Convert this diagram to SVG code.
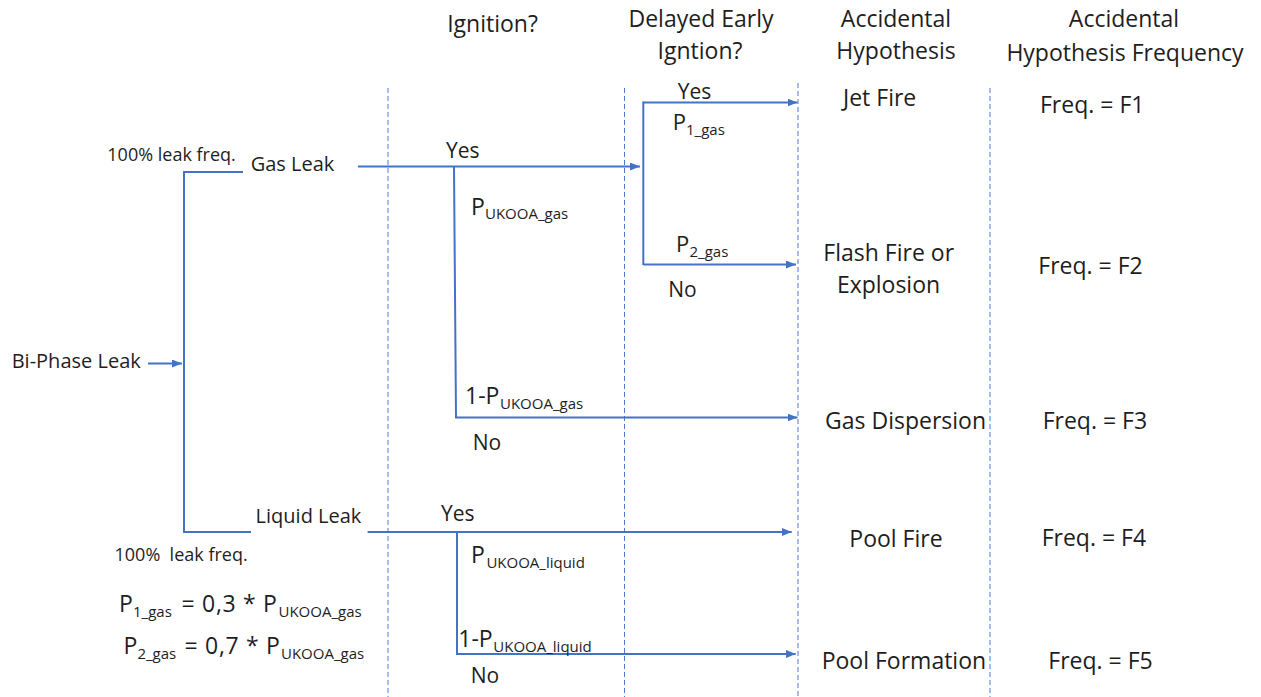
<svg xmlns="http://www.w3.org/2000/svg" width="1261" height="697" viewBox="0 0 1261 697">
<style>
text{font-family:"Open Sans","Noto Sans","Liberation Sans",sans-serif;fill:#1e1e1e}
.h{font-size:23px;text-anchor:middle}
.r{font-size:23px}
.m{font-size:20px}
.s{font-size:18px}
.yn{font-size:21px}
.p{font-size:23px}
.sub{font-size:15px}
.ls{letter-spacing:0.7px}
.c{fill:none;stroke:#4472C4;stroke-width:2}
.d{fill:none;stroke:#4A7BD0;stroke-width:1;stroke-dasharray:5 3}
</style>
<defs>
<marker id="ah" markerUnits="userSpaceOnUse" markerWidth="10" markerHeight="8" refX="10" refY="4" orient="auto">
<path d="M0,0 L10,4 L0,8 z" fill="#4472C4"/>
</marker>
</defs>
<rect width="1261" height="697" fill="#ffffff"/>
<g id="gridlines">
<line class="d" x1="388" y1="88" x2="388" y2="697"/>
<line class="d" x1="624.5" y1="88" x2="624.5" y2="697"/>
<line class="d" x1="798" y1="83" x2="798" y2="697"/>
<line class="d" x1="990" y1="88" x2="990" y2="697"/>
</g>
<g id="headers">
<text class="h" x="492.5" y="31.5">Ignition?</text>
<text class="h" x="701" y="26.5">Delayed Early</text>
<text class="h" x="700" y="58.5">Igntion?</text>
<text class="h" x="896" y="26.7">Accidental</text>
<text class="h" x="896" y="59.3">Hypothesis</text>
<text class="h" x="1124" y="27.3">Accidental</text>
<text class="h" x="1125" y="61">Hypothesis Frequency</text>
</g>
<g id="connectors">
<line class="c" x1="148" y1="363.5" x2="182" y2="363.5" marker-end="url(#ah)"/>
<path class="c" d="M243,172 H184 V532 H251"/>
<line class="c" x1="358" y1="166.5" x2="640" y2="166.5" marker-end="url(#ah)"/>
<path class="c" d="M454,166.5 L456,417.5 H797.5" marker-end="url(#ah)"/>
<line class="c" x1="643.3" y1="102.5" x2="797.5" y2="102.5" marker-end="url(#ah)"/>
<line class="c" x1="643.3" y1="101.5" x2="643.3" y2="265"/>
<line class="c" x1="643.3" y1="264.5" x2="796" y2="264.5" marker-end="url(#ah)"/>
<line class="c" x1="367.6" y1="532" x2="791.7" y2="532" marker-end="url(#ah)"/>
<path class="c" d="M457,532 V654 H795.7" marker-end="url(#ah)"/>
</g>
<g id="node-biphase"><text class="m" x="11.7" y="368.3">Bi-Phase Leak</text></g>
<g id="node-gasleak">
<text class="s" x="107.3" y="161">100% leak freq.</text>
<text class="m" x="250.7" y="171">Gas Leak</text>
</g>
<g id="node-liquidleak">
<text class="m" x="255.6" y="523.3">Liquid Leak</text>
<text class="s" x="114.5" y="561">100%&#160; leak freq.</text>
</g>
<g id="node-gas-ignition">
<text class="yn" x="446" y="158.3">Yes</text>
<text class="p" x="471" y="215">P<tspan class="sub" x="485" y="219.3">UKOOA_gas</tspan></text>
<text class="p" x="465" y="404.3">1-P<tspan class="sub" x="500" y="409">UKOOA_gas</tspan></text>
<text class="yn" x="472.7" y="450">No</text>
</g>
<g id="node-delayed">
<text class="yn" x="677.7" y="99.3">Yes</text>
<text class="p" x="672.7" y="130" style="font-size:22px">P<tspan class="sub" x="686" y="135">1_gas</tspan></text>
<text class="p" x="676" y="251.7" style="font-size:22px">P<tspan class="sub" x="689.5" y="256.7">2_gas</tspan></text>
<text class="yn" x="668.3" y="296.7">No</text>
</g>
<g id="node-liquid-ignition">
<text class="yn" x="441" y="520.7">Yes</text>
<text class="p" x="471" y="563.3">P<tspan class="sub" x="486.4" y="568.3">UKOOA_liquid</tspan></text>
<text class="p" x="458.3" y="646.5">1-P<tspan class="sub" x="493.3" y="651.7">UKOOA_liquid</tspan></text>
<text class="yn" x="470.7" y="683.3">No</text>
</g>
<g id="node-jetfire">
<text class="r" x="843" y="106">Jet Fire</text>
<text class="r" x="1040" y="113.3">Freq. = F1</text>
</g>
<g id="node-flashfire">
<text class="h" x="888.7" y="260.7">Flash Fire or</text>
<text class="h" x="888.5" y="293.3">Explosion</text>
<text class="r" x="1038.3" y="274">Freq. = F2</text>
</g>
<g id="node-gasdispersion">
<text class="r" x="825" y="429.3">Gas Dispersion</text>
<text class="r" x="1042.7" y="429.3">Freq. = F3</text>
</g>
<g id="node-poolfire">
<text class="r" x="849.3" y="546.7">Pool Fire</text>
<text class="r" x="1041.7" y="545.7">Freq. = F4</text>
</g>
<g id="node-poolformation">
<text class="r" x="821.7" y="669">Pool Formation</text>
<text class="r" x="1048.3" y="669">Freq. = F5</text>
</g>
<g id="formulas">
<text class="p" x="119" y="611.7">P<tspan class="sub" x="133" y="616.7">1_gas</tspan><tspan class="ls" x="181.5" y="611.7">= 0,3 * P</tspan><tspan class="sub" x="278.5" y="616.7">UKOOA_gas</tspan></text>
<text class="p" x="123.4" y="654.3">P<tspan class="sub" x="137.4" y="659">2_gas</tspan><tspan class="ls" x="184.5" y="654.3">= 0,7 * P</tspan><tspan class="sub" x="281" y="659">UKOOA_gas</tspan></text>
</g>
</svg>
